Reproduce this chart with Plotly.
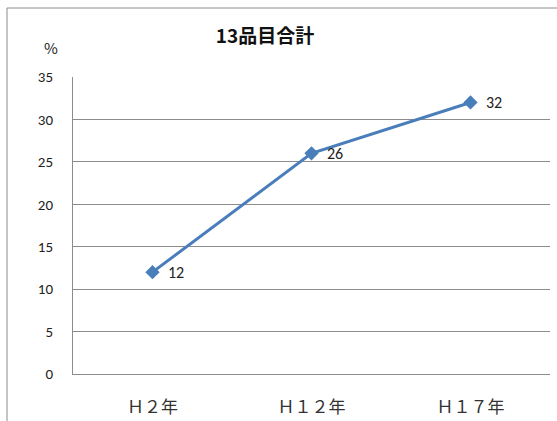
import plotly.graph_objects as go

categories = ["Ｈ２年", "Ｈ１２年", "Ｈ１７年"]
values = [12, 26, 32]
y_ticks = [0, 5, 10, 15, 20, 25, 30, 35]

W, H = 557, 421
L, R, T, B = 73, 7, 77, 47
pw, ph = W - L - R, H - T - B

def px(x):
    return (x - L) / pw

def py(y):
    return (H - B - y) / ph

fig = go.Figure()
fig.add_trace(go.Scatter(
    x=categories, y=values,
    mode="lines+markers",
    line=dict(color="#4A7EBB", width=3),
    marker=dict(symbol="diamond", size=11, color="#4A7EBB"),
    cliponaxis=False,
    showlegend=False,
))

# value labels beside each marker
labels = [dict(x=c, y=v, text=str(v), xref="x", yref="y", showarrow=False,
               xanchor="left", yanchor="middle", xshift=13,
               font=dict(family="Carlito, Liberation Sans, sans-serif", size=16, color="#222"))
          for c, v in zip(categories, values)]

fig.update_layout(
    width=W, height=H,
    margin=dict(l=L, r=R, t=T, b=B, autoexpand=False),
    paper_bgcolor="white", plot_bgcolor="white",
    title=dict(text="<b>13品目合計</b>", x=265 / W, xanchor="center", xref="container",
               y=1 - 36 / H, yanchor="middle",
               font=dict(family="Noto Sans CJK JP", size=19, color="#111")),
    xaxis=dict(type="category", range=[-0.5, 2.5], showgrid=False,
               showline=True, linecolor="#8c8c8c", linewidth=1,
               ticks="", ticklabelstandoff=18, automargin=False,
               tickfont=dict(family="Noto Sans CJK JP", size=17, color="#333"),
               fixedrange=True),
    yaxis=dict(range=[0, 35], tickvals=y_ticks, showgrid=True,
               gridcolor="#8c8c8c", gridwidth=1, zeroline=False,
               showline=True, linecolor="#8c8c8c", linewidth=1, ticks="",
               ticklabelstandoff=16, automargin=False,
               tickfont=dict(family="Carlito, Noto Sans, sans-serif", size=15, color="#222")),
    shapes=[dict(type="rect", xref="paper", yref="paper",
                 x0=px(7), x1=px(W + 5), y0=py(H + 5), y1=py(8),
                 line=dict(color="#8c8c8c", width=1), layer="below")],
    annotations=labels + [dict(text="%", xref="paper", yref="paper",
                      x=px(51), y=py(48), xanchor="center", yanchor="middle",
                      showarrow=False,
                      font=dict(family="Noto Sans CJK JP", size=15, color="#222"))],
)

fig.write_html("out.html")
